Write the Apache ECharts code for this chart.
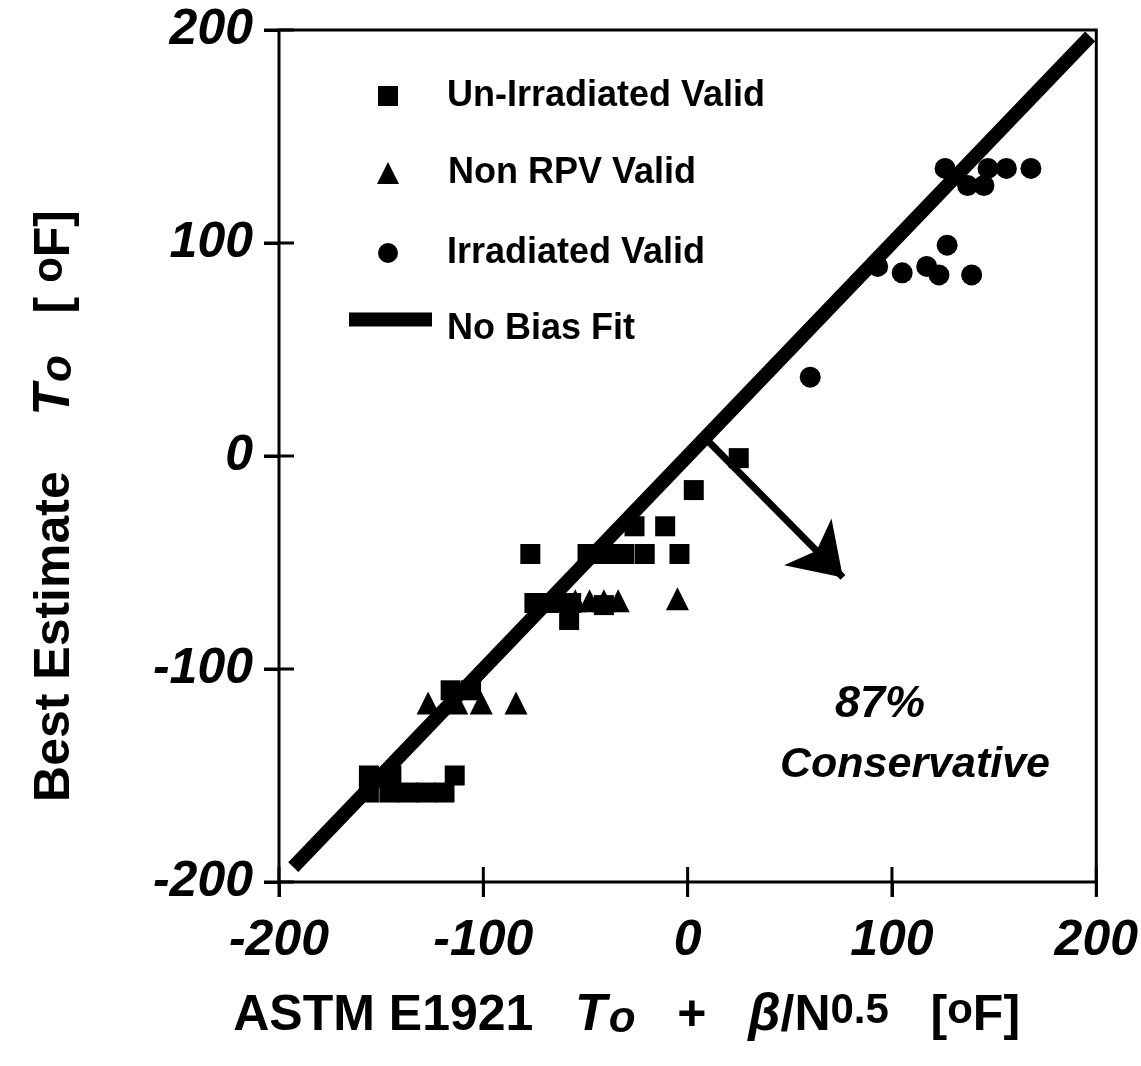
<!DOCTYPE html>
<html><head><meta charset="utf-8">
<script src="https://cdn.jsdelivr.net/npm/echarts@6/dist/echarts.min.js"></script>
<style>html,body{margin:0;padding:0;background:#fff}#c{width:1141px;height:1066px}</style>
</head><body><div id="c"></div>
<script>
// ---- data ----
const xTicks = [-200, -100, 0, 100, 200];
const yTicks = [-200, -100, 0, 100, 200];
const unIrradiatedValid = [
  [25,-1],[3,-16],[-11,-33],[-26,-33],[-4,-46],[-77,-46],[-49,-46],[-40,-46],[-31,-46],[-21,-46],
  [-75,-69],[-66,-69],[-57,-69],[-58,-77],[-41,-70],[-116,-110],[-106,-110],
  [-156,-150],[-145,-150],[-114,-150],[-156,-158],[-146,-158],[-137,-158],[-128,-158],[-119,-158]
];
const nonRPVValid = [
  [-55,-68],[-48,-68],[-41,-68],[-34,-68],[-5,-67],[-127,-116],[-113,-116],[-101,-116],[-84,-116]
];
const irradiatedValid = [
  [126,135],[147,135],[156,135],[168,135],[137,127],[145,127],[127,99],
  [93,89],[105,86],[117,89],[123,85],[139,85],[60,37]
];
const noBiasFit = [[-193,-193],[197,197]];
const arrowCoords = [[9,8],[76,-57]];
const annotation = ['87%', 'Conservative'];

const FF = 'Liberation Sans, Arial, sans-serif';
const chart = echarts.init(document.getElementById('c'), null, {renderer:'canvas'});
const axisLineStyle = {color:'#000', width:3};
const tickLabel = {fontSize:50, fontWeight:'bold', fontStyle:'italic', color:'#000', fontFamily:FF};
const nameRich = {
  b:{fontSize:50, fontWeight:'bold', color:'#000', fontFamily:FF},
  i:{fontSize:52, fontWeight:'bold', fontStyle:'italic', color:'#000', fontFamily:FF},
  sub:{fontSize:44, fontWeight:'bold', fontStyle:'italic', color:'#000', fontFamily:FF, verticalAlign:'bottom', padding:[0,0,0,2]},
  sup:{fontSize:42, fontWeight:'bold', color:'#000', fontFamily:FF, verticalAlign:'top'}
};
function baseAxis(extra){
  return Object.assign({type:'value', min:-200, max:200, interval:100,
    splitLine:{show:false}, axisLine:{show:false, onZero:false},
    axisTick:{show:true, length:15, lineStyle:axisLineStyle}}, extra);
}
const legendText = {fontSize:36, fontWeight:'bold', color:'#000', fontFamily:FF, padding:[0,0,0,44]};
function stub(dx, dy){
  return function(params, api){
    const p = api.coord([api.value(0), api.value(1)]);
    return {type:'line', shape:{x1:p[0]-dx, y1:p[1]-dy, x2:p[0]+dx, y2:p[1]+dy}, style:{stroke:'#000', lineWidth:3}};
  };
}
chart.setOption({
  animation:false,
  backgroundColor:'#fff',
  grid:{left:279, right:38, top:30, bottom:184, show:true, backgroundColor:'rgba(0,0,0,0)', borderColor:'#000', borderWidth:3},
  xAxis:[
    baseAxis({position:'bottom',
      axisLabel:{...tickLabel, margin:34},
      name:'{b|ASTM E1921   }{i|T}{sub|o}{b|   +   }{i|β}{b|/N}{sup|0.5}{b|   [}{sup|o}{b|F]}',
      nameLocation:'middle', nameGap:108, nameTextStyle:{rich:nameRich, padding:[0,122,0,0]}})
  ],
  yAxis:[
    baseAxis({position:'left',
      axisLabel:{...tickLabel, margin:26},
      name:'{b|Best Estimate    }{i|T}{sub|o}{b|   [ }{sup|o}{b|F]}',
      nameLocation:'middle', nameRotate:90, nameGap:198, nameTextStyle:{rich:nameRich, padding:[0,100,0,0]}})
  ],
  legend:[
    {data:[{name:'Un-Irradiated Valid', icon:'rect'}], left:378, top:78, padding:0, itemWidth:20, itemHeight:20, selectedMode:false, textStyle:legendText},
    {data:[{name:'Non RPV Valid', icon:'triangle'}], left:377, top:155, padding:0, itemWidth:22, itemHeight:22, selectedMode:false, textStyle:legendText},
    {data:[{name:'Irradiated Valid', icon:'circle'}], left:378, top:235, padding:0, itemWidth:20, itemHeight:20, selectedMode:false, textStyle:legendText},
    {data:[{name:'No Bias Fit', icon:'path://M0,0L83,0L83,14L0,14Z M0,32.9L0.05,32.9L0.05,33Z'}], left:349, top:311, padding:0, itemWidth:83, itemHeight:33, selectedMode:false,
      textStyle:{...legendText, padding:[0,0,0,10]}}
  ],
  series:[
    {name:'No Bias Fit', type:'line', data:noBiasFit, symbol:'none', color:'#000',
      lineStyle:{color:'#000', width:14, cap:'butt'}, z:2},
    {name:'Un-Irradiated Valid', type:'scatter', data:unIrradiatedValid, symbol:'rect', symbolSize:20, color:'#000', itemStyle:{color:'#000', opacity:1}, z:3},
    {name:'Non RPV Valid', type:'scatter', data:nonRPVValid, symbol:'triangle', symbolSize:23, color:'#000', itemStyle:{color:'#000', opacity:1}, z:3},
    {name:'Irradiated Valid', type:'scatter', data:irradiatedValid, symbol:'circle', symbolSize:21, color:'#000', itemStyle:{color:'#000', opacity:1}, z:3},
    {name:'arrow', type:'lines', coordinateSystem:'cartesian2d', data:[{coords:arrowCoords}],
      symbol:['none','arrow'], symbolSize:50, lineStyle:{color:'#000', width:7, opacity:1}, silent:true, z:4},
    {name:'xTickCross', type:'custom', coordinateSystem:'cartesian2d', data:xTicks.map(v=>[v,-200]), renderItem:stub(0,15), clip:false, silent:true, z:10},
    {name:'yTickCross', type:'custom', coordinateSystem:'cartesian2d', data:yTicks.map(v=>[-200,v]), renderItem:stub(15,0), clip:false, silent:true, z:10}
  ],
  graphic:[
    {type:'text', x:880, y:705, style:{text:annotation[0], fill:'#000', font:'italic bold 45px '+FF, textAlign:'center', textVerticalAlign:'middle'}},
    {type:'text', x:915, y:765, style:{text:annotation[1], fill:'#000', font:'italic bold 43px '+FF, textAlign:'center', textVerticalAlign:'middle'}}
  ]
});
</script></body></html>
